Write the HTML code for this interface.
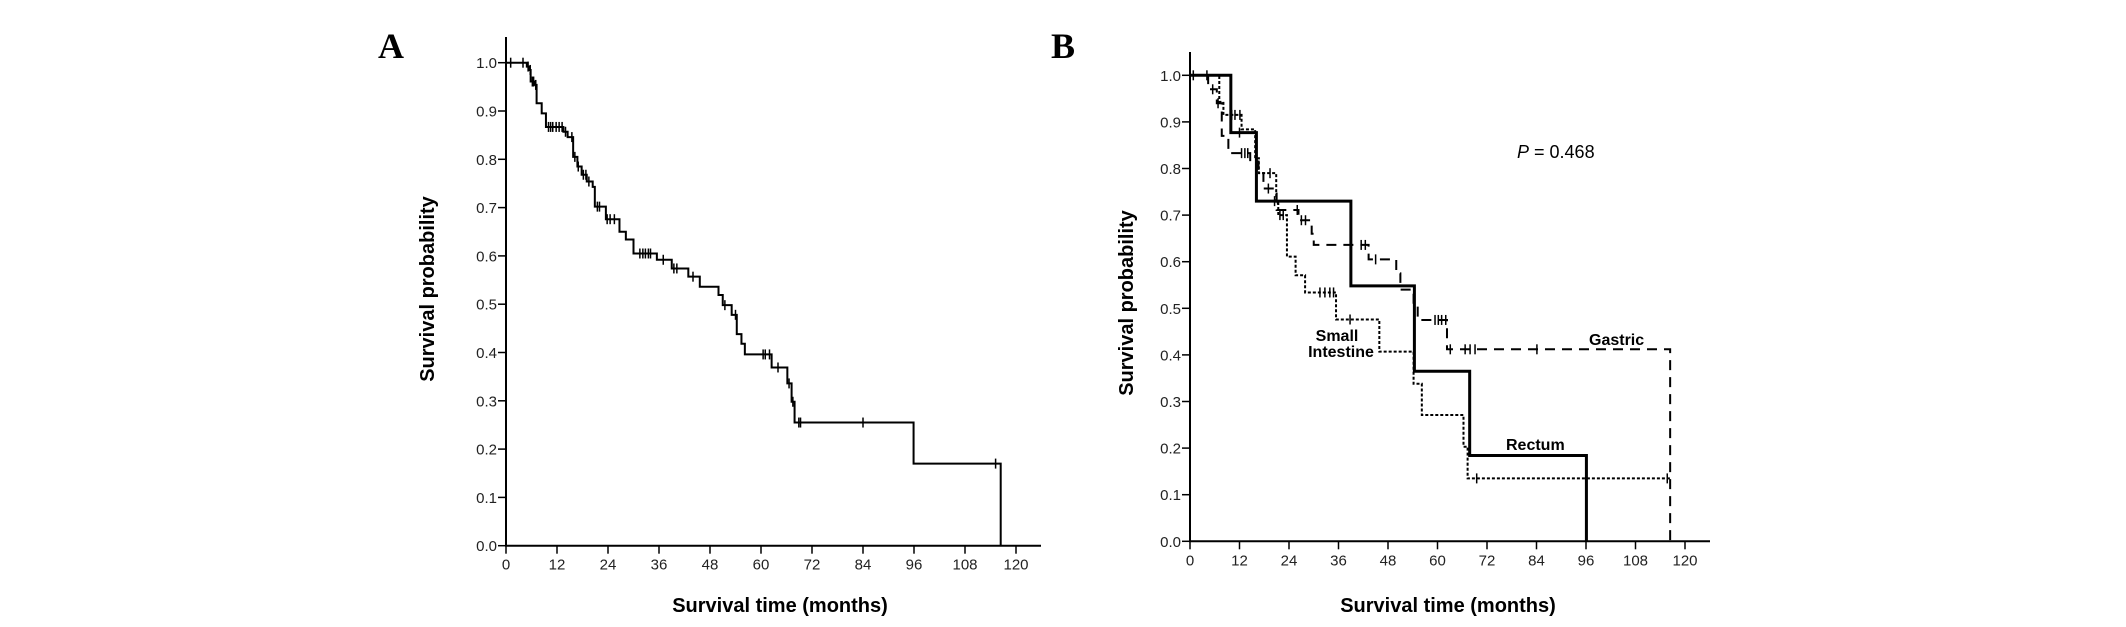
<!DOCTYPE html>
<html><head><meta charset="utf-8"><style>
html,body{margin:0;padding:0;background:#fff;}
svg{display:block;font-family:"Liberation Sans",Arial,sans-serif;}
</style></head><body>
<svg id="fig" width="2126" height="627" viewBox="0 0 2126 627"></svg>
<script>
// ---------- data ----------
const xTicks = [0,12,24,36,48,60,72,84,96,108,120];
const yTicks = [0,0.1,0.2,0.3,0.4,0.5,0.6,0.7,0.8,0.9,1.0];
// Panel A: [time, survival after step]
const overallSteps = [[4.9,0.992],[5.5,0.985],[5.8,0.961],[6.8,0.954],[7.2,0.916],[8.4,0.895],[9.4,0.867],[13.5,0.857],[14.5,0.846],[15.8,0.805],[16.8,0.785],[17.8,0.768],[19.0,0.754],[20.4,0.743],[20.9,0.702],[23.5,0.676],[26.7,0.650],[28.2,0.634],[30.0,0.605],[35.5,0.592],[39.0,0.574],[42.9,0.557],[45.6,0.536],[50.0,0.519],[51.0,0.498],[53.1,0.478],[54.3,0.438],[55.4,0.418],[56.2,0.396],[62.5,0.369],[66.2,0.336],[67.2,0.298],[67.9,0.255],[95.9,0.17],[116.4,0]];
const overallCensor = [1.1,4.0,5.2,5.7,6.2,6.5,7.0,10.0,10.5,11.0,11.8,12.5,13.2,14.0,15.5,16.2,17.0,18.2,18.8,19.5,21.5,22.0,23.8,24.5,25.5,31.5,32.2,32.8,33.5,34.0,37.0,39.5,40.2,44.0,51.5,54.0,60.5,61.0,62.0,64.0,66.6,67.5,68.9,69.3,84.0,115.2];
// Panel B
const rectumSteps = [[9.9,0.877],[16.1,0.73],[39.0,0.548],[54.4,0.365],[67.8,0.184],[96.1,0]];
const rectumCensor = [12.0,20.5];
const gastricSteps = [[4.4,0.97],[6.5,0.94],[7.7,0.87],[9.3,0.833],[14.6,0.815],[16.6,0.79],[17.8,0.757],[21.0,0.711],[26.3,0.689],[29.5,0.66],[30.0,0.636],[43.3,0.605],[50.0,0.575],[51.0,0.54],[54.2,0.508],[55.2,0.475],[62.3,0.412],[116.4,0]];
const gastricCensor = [0.8,4.1,5.5,6.8,12.5,13.3,14.0,19.0,26.0,27.0,28.0,41.5,42.5,45.0,59.4,60.2,61.0,62.0,63.1,66.7,67.9,69.1,84.1];
const smallSteps = [[7.1,0.943],[8.1,0.915],[12.5,0.884],[15.8,0.822],[16.7,0.79],[20.9,0.725],[21.4,0.70],[23.5,0.611],[25.6,0.571],[27.9,0.534],[35.4,0.476],[45.9,0.407],[54.2,0.338],[56.2,0.271],[66.3,0.203],[67.3,0.135]];
const smallEnd = 116.4;
const smallCensor = [10.1,10.9,12.1,19.4,21.8,22.6,31.5,32.7,33.9,34.8,38.8,69.5,115.7];

// ---------- drawing ----------
const NS = "http://www.w3.org/2000/svg";
const svg = document.getElementById('fig');
function mk(tag, attrs, parent){const e=document.createElementNS(NS,tag);for(const k in attrs)e.setAttribute(k,attrs[k]);(parent||svg).appendChild(e);return e;}

function panel(cfg){
  const g = mk('g',{});
  
  
  const X = t => cfg.x0 + t*cfg.kx;
  const Y = v => cfg.y0 - v*cfg.ky;
  const ax = mk('path',{d:`M${X(0)},${cfg.yTop} V${Y(0)} H${cfg.xEnd}`,fill:'none',stroke:'#000','stroke-width':2},g);
  
  
  yTicks.forEach(v=>{
    const tk = mk('line',{x1:X(0)-8,x2:X(0),y1:Y(v),y2:Y(v),stroke:'#000','stroke-width':1.5},g);
    
    
    const lb = mk('text',{x:X(0)-9,y:Y(v)+5.5,'text-anchor':'end','font-size':15,fill:'#222'},g);
    lb.textContent = v.toFixed(1);
    
    
  });
  xTicks.forEach(t=>{
    const tk = mk('line',{x1:X(t),x2:X(t),y1:Y(0),y2:Y(0)+8,stroke:'#000','stroke-width':1.5},g);
    
    
    const lb = mk('text',{x:X(t),y:Y(0)+24,'text-anchor':'middle','font-size':15,fill:'#222'},g);
    lb.textContent = t;
    
    
  });
  const yt = mk('text',{x:0,y:0,transform:`translate(${cfg.ytx},${cfg.yty}) rotate(-90)`,'text-anchor':'middle','font-size':20,'font-weight':'bold'},g);
  yt.textContent = 'Survival probability';
  
  
  const xt = mk('text',{x:cfg.xtx,y:612,'text-anchor':'middle','font-size':20,'font-weight':'bold'},g);
  xt.textContent = 'Survival time (months)';
  
  
  const lt = mk('text',{x:cfg.lx,y:58,'font-size':36,'font-weight':'bold','font-family':'"Liberation Serif",serif'},g);
  lt.textContent = cfg.letter;
  
  
  return {g,X,Y};
}

function curve(p, steps, censor, style, name, endT){
  let d = `M${p.X(0)},${p.Y(1)}`;
  let cur = 1;
  steps.forEach(s=>{d += ` H${p.X(s[0])} V${p.Y(s[1])}`; cur = s[1];});
  if(endT!==undefined) d += ` H${p.X(endT)}`;
  const path = mk('path',{d,fill:'none',stroke:'#000','stroke-width':style.w,'stroke-dasharray':style.dash||'none'},p.g);
  
  
  censor.forEach(t=>{
    let v = 1;
    steps.forEach(s=>{ if(s[0]<=t) v = s[1]; });
    const m = mk('line',{x1:p.X(t),x2:p.X(t),y1:p.Y(v)-5,y2:p.Y(v)+5,stroke:'#000','stroke-width':1.5},p.g);
    
    
  });
}

const A = panel({name:'panel-a',x0:506,kx:4.25,y0:545.7,ky:483,yTop:37,xEnd:1041,ytx:434,yty:289,xtx:780,lx:378,letter:'A'});
curve(A, overallSteps, overallCensor, {w:2}, 'overall');

const B = panel({name:'panel-b',x0:1190,kx:4.125,y0:541.3,ky:466,yTop:52,xEnd:1710,ytx:1133,yty:303,xtx:1448,lx:1051,letter:'B'});
curve(B, smallSteps, smallCensor, {w:2,dash:'3,2'}, 'small-intestine', smallEnd);
curve(B, gastricSteps, gastricCensor, {w:2,dash:'10,7'}, 'gastric');
curve(B, rectumSteps, rectumCensor, {w:3}, 'rectum');

function label(txt,x,y,attrs,name){
  const t = mk('text',Object.assign({x,y,'font-size':16,'font-weight':'bold'},attrs||{}),B.g);
  t.textContent = txt;
  
  
  return t;
}
const pv = mk('text',{x:1517,y:158,'font-size':18},B.g);


pv.innerHTML = '<tspan font-style="italic">P</tspan> = 0.468';
label('Gastric',1589,345,{},'gastric-label');
label('Rectum',1506,450,{},'rectum-label');
label('Small',1337,341,{'text-anchor':'middle'},'small-intestine-label-1');
label('Intestine',1341,357,{'text-anchor':'middle'},'small-intestine-label-2');
</script>
</body></html>
